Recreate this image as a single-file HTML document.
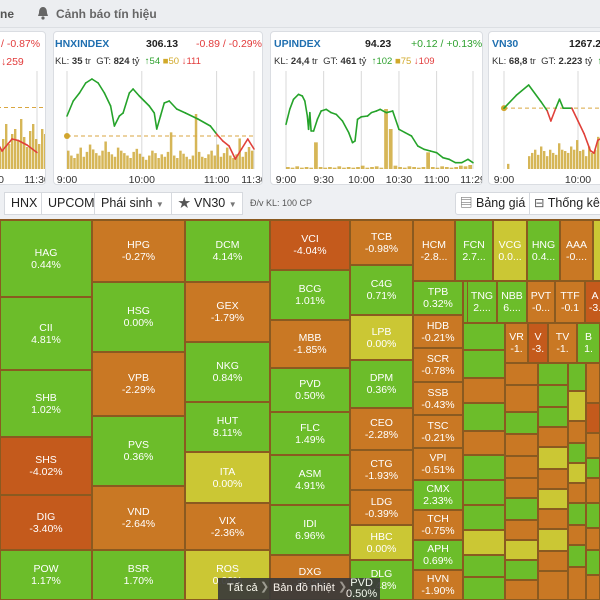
<!DOCTYPE html>
<html><head><meta charset="utf-8">
<style>
*{box-sizing:border-box;margin:0;padding:0}
body{width:600px;height:600px;overflow:hidden;background:#eef0f3;font-family:"Liberation Sans","Noto Sans CJK SC",sans-serif;position:relative}
.top{position:absolute;left:0;top:0;width:600px;height:28px;background:#eceef1;border-bottom:1px solid #dcdfe3}
.card{position:absolute;top:31px;height:154px;background:#fff;border:1px solid #dadde2;border-radius:4px;overflow:hidden}
.hd{position:absolute;font-size:10.5px;white-space:nowrap}
.tab{position:absolute;top:192px;height:23px;background:#fff;border:1px solid #d6d9de;font-size:12.5px;line-height:21px;padding:0 6px;color:#222;white-space:nowrap;overflow:hidden}
.cell{position:absolute;border:1px solid #8a5a20;color:#fff;font-size:10.5px;text-align:center;display:flex;flex-direction:column;justify-content:center;line-height:12px;overflow:hidden}
</style></head><body>
<div class="top">
 <span style="position:absolute;left:0;top:7px;font-size:12px;color:#555;font-weight:bold">ne</span>
 <svg style="position:absolute;left:37px;top:6px" width="12" height="14"><path d="M6 1 C3 1 2 4 2 7 L1 10 L11 10 L10 7 C10 4 9 1 6 1 Z" fill="#666"/><circle cx="6" cy="12" r="1.6" fill="#666"/></svg>
 <span style="position:absolute;left:56px;top:7px;font-size:12px;font-weight:bold;color:#666">Cảnh báo tín hiệu</span>
</div>

<div class="card" style="left:-10px;width:56px">
 <span class="hd" style="left:10px;top:6px;color:#e23b3b">/ -0.87%</span>
 <span class="hd" style="left:10px;top:24px;color:#e23b3b">↓259</span>
 <svg id="c1" width="56" height="154" style="position:absolute;left:0;top:0"></svg>
</div>
<div class="card" style="left:53px;width:210px">
 <span class="hd" style="left:1px;top:6px;color:#1f6fb0;font-weight:bold">HNXINDEX</span>
 <span class="hd" style="left:92px;top:6px;color:#222;font-weight:bold">306.13</span>
 <span class="hd" style="left:142px;top:6px;color:#e23b3b">-0.89 / -0.29%</span>
 <span class="hd" style="left:1px;top:24px;color:#333;font-size:9.5px">KL: <b>35</b> tr &nbsp;GT: <b>824</b> tỷ &nbsp;<span style="color:#2ea12e">↑54</span> <span style="color:#d1a92a">■50</span> <span style="color:#e23b3b">↓111</span></span>
 <svg id="c2" width="210" height="154" style="position:absolute;left:0;top:0"></svg>
</div>
<div class="card" style="left:270px;width:213px">
 <span class="hd" style="left:3px;top:6px;color:#1f6fb0;font-weight:bold">UPINDEX</span>
 <span class="hd" style="left:94px;top:6px;color:#222;font-weight:bold">94.23</span>
 <span class="hd" style="left:140px;top:6px;color:#2ea12e">+0.12 / +0.13%</span>
 <span class="hd" style="left:3px;top:24px;color:#333;font-size:9.5px">KL: <b>24,4</b> tr &nbsp;GT: <b>461</b> tỷ &nbsp;<span style="color:#2ea12e">↑102</span> <span style="color:#d1a92a">■75</span> <span style="color:#e23b3b">↓109</span></span>
 <svg id="c3" width="213" height="154" style="position:absolute;left:0;top:0"></svg>
</div>
<div class="card" style="left:488px;width:130px">
 <span class="hd" style="left:3px;top:6px;color:#1f6fb0;font-weight:bold">VN30</span>
 <span class="hd" style="left:80px;top:6px;color:#222;font-weight:bold">1267.2</span>
 <span class="hd" style="left:3px;top:24px;color:#333;font-size:9.5px">KL: <b>68,8</b> tr &nbsp;GT: <b>2.223</b> tỷ &nbsp;<span style="color:#2ea12e">↑</span></span>
 <svg id="c4" width="130" height="154" style="position:absolute;left:0;top:0"></svg>
</div>

<div class="tab" style="left:4px;width:38px">HNX</div>
<div class="tab" style="left:41px;width:54px">UPCOM</div>
<div class="tab" style="left:94px;width:78px">Phái sinh <span style="font-size:8px;color:#777">▼</span></div>
<div class="tab" style="left:171px;width:72px"><span style="color:#555">★</span> VN30 <span style="font-size:8px;color:#777">▼</span></div>
<span style="position:absolute;left:250px;top:198px;font-size:9px;color:#555">Đ/v KL: 100 CP</span>
<div class="tab" style="left:455px;width:75px;border-radius:3px 0 0 3px;padding:0 4px"><span style="color:#555">▤</span> Bảng giá</div>
<div class="tab" style="left:529px;width:80px;padding:0 4px"><span style="color:#555">⊟</span> Thống kê</div>

<div id="tm" style="position:absolute;left:0;top:219px;width:600px;height:381px;background:#8a5a20"></div>

<div style="position:absolute;left:218px;top:578px;height:22px;width:162px;background:#3a3a3a;opacity:.92;color:#fff;font-size:11px">
 <span style="position:absolute;left:9px;top:4px">Tất cả</span>
 <span style="position:absolute;left:42px;top:2px;color:#999">❯</span>
 <span style="position:absolute;left:55px;top:4px">Bản đồ nhiệt</span>
 <span style="position:absolute;left:120px;top:2px;color:#999">❯</span>
 <span style="position:absolute;left:128px;top:0px;line-height:11px;text-align:center">PVD<br>0.50%</span>
</div>

<script>
// ---- chart data ----
const hnxMinutes=[0,5,10,15,20,25,30,35,38,42,45,50,53,58,62,66,70,72,75,78,82,88,95,105,115,120,125,130,135,140,145,150];
const hnxValues=[308.22,309.12,309.6,310.2,310.44,310.2,309.6,308.82,307.62,308.22,308.4,309.6,309.84,309.42,309.12,308.82,308.4,307.44,308.22,309.0,309.12,308.64,308.4,308.04,307.62,307.14,306.72,306.42,305.64,306.24,306.84,306.24];
const hnxRef=307.02;
const hnxVolumes=[30,22,18,25,35,20,28,40,32,26,22,30,45,28,24,20,35,30,26,22,18,28,33,25,20,15,22,30,26,18,24,20,28,60,22,18,30,25,20,16,22,90,28,20,18,24,30,22,40,20,26,35,22,18,24,50,20,28,36,30];
const upMinutes=[0,3,6,10,13,15,17,18,19,20,22,25,28,32,36,40,45,50,53,55,57,60,65,68,72,75,80,85,90,95,100,105,110,115,120,125,130,135,140,145,149];
const upValues=[94.42,94.6,94.72,94.78,94.76,94.7,94.52,94.36,94.56,94.34,94.34,94.48,94.58,94.6,94.56,94.54,94.46,94.32,94.2,94.22,94.48,94.51,94.52,94.56,94.58,94.6,94.56,94.58,94.36,94.32,94.28,94.16,94.12,94.1,94.08,94.02,94.0,93.96,93.96,94.0,93.96];
const upVolumes=[3,2,4,2,3,2,40,3,2,3,2,4,2,3,2,3,5,2,3,4,2,90,60,5,3,2,4,3,2,3,25,3,2,4,3,2,3,5,4,6];
const vn30Minutes=[0,10,20,30,35,38,42,45,48,55,60,65,70,73,76,80,85,88,92,97];
const vn30Values=[1268.5,1271.5,1273.9,1270.0,1267.9,1265.5,1268.5,1270.6,1268.5,1268.5,1265.5,1262.5,1258.6,1258.0,1261.0,1261.6,1264.6,1266.1,1264.6,1265.5];
const vn30Ref=1268.5;
const vn30Volumes=[0,8,0,0,0,0,0,0,20,25,30,22,35,28,20,30,25,22,40,30,28,25,35,30,45,28,30,20,35,25,30,50,28,40,30,60,35,30,25,70];
const vnMinutes=[115,122,130,135,142,150];
const vnValues=[-1.0,-2.0,-1.2,-1.3,-1.6,-2.1];
const vnRef=0.9;
const vnVolumes=[20,30,45,25,35,40,28,50,32,22,38,45,30,25,40,35];

const NS='http://www.w3.org/2000/svg';
function mk(svg,tag,attrs){const e=document.createElementNS(NS,tag);for(const k in attrs)e.setAttribute(k,attrs[k]);svg.appendChild(e);return e;}

function drawChart(id,o){
  const svg=document.getElementById(id);
  const x=m=>o.x0+(m-o.m0)*o.pxPerMin;
  const y=v=>o.yTop+(o.vMax-v)/(o.vMax-o.vMin)*(o.yBot-o.yTop);
  o.grid.forEach(m=>{const g=mk(svg,'line',{x1:x(m),x2:x(m),y1:o.yTop-5,y2:o.yBot+3,stroke:'#d8d8d8','stroke-width':1});
    });
  const vmax=Math.max(...o.vol);
  const bw=(o.volEnd-o.volStart)/o.vol.length;
  o.vol.forEach((v,i)=>{const h=v/vmax*o.volH;
    const r=mk(svg,'rect',{x:o.volStart+i*bw,y:o.yBot+3-h,width:Math.max(bw*0.8,1),height:h,fill:'#cfa93a',opacity:0.85});
    });
  if(o.ref!==undefined){const ry=y(o.ref);
    const l=mk(svg,'line',{x1:o.x0,x2:o.refEnd,y1:ry,y2:ry,stroke:'#d9a640','stroke-width':1,'stroke-dasharray':'4,3'});
    
    if(o.refDot){const c=mk(svg,'circle',{cx:o.x0,cy:ry,r:3,fill:'#d1a52e'});}
  }
  for(let i=1;i<o.mins.length;i++){
    const above=o.ref===undefined||(o.vals[i]+o.vals[i-1])/2>=o.ref;
    const s=mk(svg,'line',{x1:x(o.mins[i-1]),y1:y(o.vals[i-1]),x2:x(o.mins[i]),y2:y(o.vals[i]),stroke:above?'#25a32a':'#e0403a','stroke-width':1.6,'stroke-linecap':'round'});
    
  }
  o.labels.forEach(([m,t])=>{const tx=mk(svg,'text',{x:x(m),y:o.yBot+17,'font-size':10.5,'text-anchor':'middle',fill:'#333','font-family':'Liberation Sans'});
    tx.textContent=t;});
}
drawChart('c2',{x0:13,m0:0,pxPerMin:187/150,yTop:44,yBot:134,vMin:305.22,vMax:310.62,mins:hnxMinutes,vals:hnxValues,ref:hnxRef,refEnd:200,refDot:true,
  vol:hnxVolumes,volStart:13,volEnd:200,volH:55,grid:[0,60,120,150],labels:[[0,'9:00'],[60,'10:00'],[120,'11:00'],[150,'11:30']]});
drawChart('c3',{x0:15,m0:0,pxPerMin:187/149,yTop:44,yBot:134,vMin:93.92,vMax:95.0,mins:upMinutes,vals:upValues,
  vol:upVolumes,volStart:15,volEnd:202,volH:60,grid:[0,30,60,90,120,149],labels:[[0,'9:00'],[30,'9:30'],[60,'10:00'],[90,'10:30'],[120,'11:00'],[149,'11:29']]});
drawChart('c4',{x0:15,m0:0,pxPerMin:74/60,yTop:44,yBot:134,vMin:1255,vMax:1276,mins:vn30Minutes,vals:vn30Values,ref:vn30Ref,refEnd:130,refDot:true,
  vol:vn30Volumes,volStart:15,volEnd:135,volH:45,grid:[0,60],labels:[[0,'9:00'],[60,'10:00']]});
drawChart('c1',{x0:-141,m0:0,pxPerMin:187/150,yTop:44,yBot:134,vMin:-3,vMax:3,mins:vnMinutes,vals:vnValues,ref:vnRef,refEnd:57,
  vol:vnVolumes,volStart:8,volEnd:56,volH:50,grid:[150],labels:[[113,'10:00'],[150,'11:30']]});

// ---- heatmap ----
const C={G:'#6cbd2a',O:'#c97824',R:'#c45a1c',Y:'#cbc734'};
const cells=[
['HAG','0.44%','G',0,220,92,77],['CII','4.81%','G',0,297,92,73],['SHB','1.02%','G',0,370,92,67],['SHS','-4.02%','R',0,437,92,58],['DIG','-3.40%','R',0,495,92,55],['POW','1.17%','G',0,550,92,50],
['HPG','-0.27%','O',92,220,93,62],['HSG','0.00%','G',92,282,93,70],['VPB','-2.29%','O',92,352,93,64],['PVS','0.36%','G',92,416,93,70],['VND','-2.64%','O',92,486,93,64],['BSR','1.70%','G',92,550,93,50],
['DCM','4.14%','G',185,220,85,62],['GEX','-1.79%','O',185,282,85,60],['NKG','0.84%','G',185,342,85,60],['HUT','8.11%','G',185,402,85,50],['ITA','0.00%','Y',185,452,85,51],['VIX','-2.36%','O',185,503,85,47],['ROS','0.00%','Y',185,550,85,50],
['VCI','-4.04%','R',270,220,80,50],['BCG','1.01%','G',270,270,80,50],['MBB','-1.85%','O',270,320,80,48],['PVD','0.50%','G',270,368,80,44],['FLC','1.49%','G',270,412,80,43],['ASM','4.91%','G',270,455,80,50],['IDI','6.96%','G',270,505,80,50],['DXG','-2.32%','O',270,555,80,45],
['TCB','-0.98%','O',350,220,63,45],['C4G','0.71%','G',350,265,63,50],['LPB','0.00%','Y',350,315,63,45],['DPM','0.36%','G',350,360,63,48],['CEO','-2.28%','O',350,408,63,42],['CTG','-1.93%','O',350,450,63,40],['LDG','-0.39%','O',350,490,63,35],['HBC','0.00%','Y',350,525,63,35],['DLG','1.48%','G',350,560,63,40],
['HCM','-2.8...','O',413,220,42,61],['TPB','0.32%','G',413,281,50,34],['HDB','-0.21%','O',413,315,50,33],['SCR','-0.78%','O',413,348,50,34],['SSB','-0.43%','O',413,382,50,33],['TSC','-0.21%','O',413,415,50,33],['VPI','-0.51%','O',413,448,50,32],['CMX','2.33%','G',413,480,50,30],['TCH','-0.75%','O',413,510,50,30],['APH','0.69%','G',413,540,50,30],['HVN','-1.90%','O',413,570,50,30],
['FCN','2.7...','G',455,220,38,61],['VCG','0.0...','Y',493,220,34,61],['HNG','0.4...','G',527,220,33,61],['AAA','-0....','O',560,220,33,61],['','','Y',593,220,10,61],
['','','G',463,281,5,42],['TNG','2....','G',467,281,30,42],['NBB','6....','G',497,281,30,42],['PVT','-0...','O',527,281,28,42],['TTF','-0.1','O',555,281,30,42],['A','-3.','R',585,281,20,42],
['','','G',463,323,42,27],['VR','-1.','O',505,323,23,40],['V','-3.','R',528,323,20,40],['TV','-1.','O',548,323,29,40],['B','1.','G',577,323,23,40],
['','','G',463,350,42,28],['','','O',463,378,42,25],['','','G',463,403,42,28],['','','O',463,431,42,24],['','','G',463,455,42,25],['','','G',463,480,42,25],['','','G',463,505,42,25],['','','Y',463,530,42,25],['','','G',463,555,42,22],['','','G',463,577,42,23],
['','','O',505,363,33,22],['','','O',505,385,33,27],['','','G',505,412,33,22],['','','O',505,434,33,22],['','','O',505,456,33,22],['','','O',505,478,33,20],['','','G',505,498,33,22],['','','O',505,520,33,20],['','','Y',505,540,33,20],['','','G',505,560,33,20],['','','O',505,580,33,20],
['','','G',538,363,30,22],['','','G',538,385,30,22],['','','G',538,407,30,20],['','','O',538,427,30,20],['','','Y',538,447,30,22],['','','O',538,469,30,20],['','','Y',538,489,30,20],['','','O',538,509,30,20],['','','Y',538,529,30,22],['','','O',538,551,30,20],['','','O',538,571,30,29],
['','','G',568,363,18,28],['','','Y',568,391,18,30],['','','O',568,421,18,22],['','','G',568,443,18,20],['','','Y',568,463,18,20],['','','O',568,483,18,20],['','','G',568,503,18,22],['','','O',568,525,18,20],['','','G',568,545,18,22],['','','O',568,567,18,33],
['','','O',586,363,14,40],['','','R',586,403,14,30],['','','O',586,433,14,25],['','','G',586,458,14,20],['','','O',586,478,14,25],['','','G',586,503,14,25],['','','O',586,528,14,22],['','','G',586,550,14,25],['','','O',586,575,14,25]
];
const tm=document.getElementById('tm');
cells.forEach(c=>{
  const d=document.createElement('div');
  d.className='cell';
  d.style.cssText=`left:${c[3]}px;top:${c[4]-219}px;width:${c[5]}px;height:${c[6]}px;background:${C[c[2]]}`;
  if(c[0])d.innerHTML=`<span>${c[0]}</span><span>${c[1]}</span>`;
  
  
  tm.appendChild(d);
});
</script>
</body></html>
